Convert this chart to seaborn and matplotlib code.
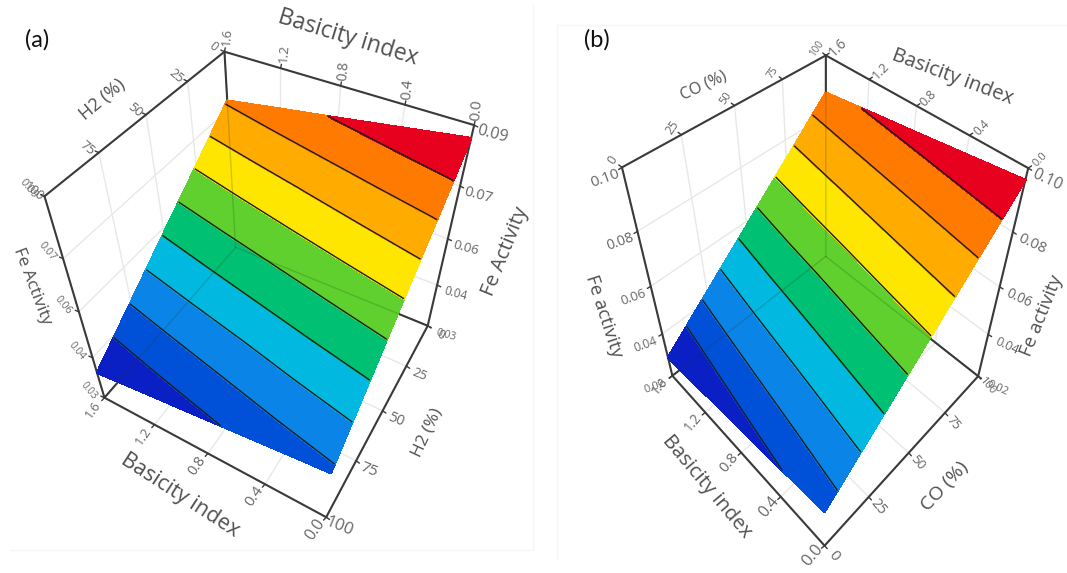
import numpy as np
import seaborn as sns
import matplotlib
matplotlib.use("Agg")
import matplotlib.pyplot as plt

# values
basicity = [0.0, 0.4, 0.8, 1.2, 1.6]
gas_pct = [0, 25, 50, 75, 100]
basicity_ticks = ['0.0', '0.4', '0.8', '1.2', '1.6']
gas_ticks = ['0', '25', '50', '75', '100']

# rows = basicity, columns = gas %
fe_h2 = [
    [0.0870, 0.0772, 0.0674, 0.0576, 0.0478],
    [0.0846, 0.0749, 0.0652, 0.0555, 0.0458],
    [0.0822, 0.0726, 0.0630, 0.0533, 0.0437],
    [0.0799, 0.0703, 0.0608, 0.0512, 0.0417],
    [0.0775, 0.0680, 0.0586, 0.0491, 0.0396],
]
fe_co = [
    [0.0381, 0.0527, 0.0673, 0.0819, 0.0965],
    [0.0358, 0.0504, 0.0651, 0.0797, 0.0943],
    [0.0336, 0.0482, 0.0628, 0.0775, 0.0921],
    [0.0313, 0.0460, 0.0607, 0.0753, 0.0900],
    [0.0290, 0.0437, 0.0584, 0.0731, 0.0878],
]
levels_h2 = [0.0443, 0.0488, 0.0535, 0.0582, 0.0629, 0.0676, 0.0723, 0.0770, 0.0818]
levels_co = [0.0360, 0.0419, 0.0487, 0.0555, 0.0624, 0.0692, 0.0761, 0.0829, 0.0897]

z_ticks_h2 = [0.03, 0.045, 0.06, 0.075, 0.09]
z_labels_h2 = ['0.03', '0.04', '0.06', '0.07', '0.09']
z_ticks_co = [0.02, 0.04, 0.06, 0.08, 0.10]
z_labels_co = ['0.02', '0.04', '0.06', '0.08', '0.10']

band_colors = ['#0a1fc4', '#0050d8', '#0a84e6', '#00b8e0', '#00c074',
               '#5fd02e', '#ffe600', '#ffab00', '#ff7a00', '#e8001f']

# camera calibration: box corner (basicity, gas, Fe) -> pixel in the figure
corners_a = {
    (1.6, 0, 0.09): (225, 52), (0.0, 0, 0.09): (474, 125), (1.6, 100, 0.09): (44, 196),
    (1.6, 100, 0.03): (105, 398), (0.0, 100, 0.03): (326, 517),
    (0.0, 0, 0.03): (428, 326), (1.6, 0, 0.03): (235, 247),
}
corners_b = {
    (1.6, 100, 0.10): (826, 55), (0.0, 100, 0.10): (1028, 168), (1.6, 0, 0.10): (622, 168),
    (1.6, 0, 0.02): (672, 375), (0.0, 0, 0.02): (825, 546),
    (0.0, 100, 0.02): (978, 376), (1.6, 100, 0.02): (826, 257),
}

EDGE = '#3a3a3a'
GRID = '#e8e8e8'
TEXT = '#666666'


def fit_camera(corners):
    rows = []
    for (b, g, z), (px, py) in corners.items():
        w = [b, g / 100, z * 10, 1]
        rows.append(w + [0, 0, 0, 0] + [-px * v for v in w])
        rows.append([0, 0, 0, 0] + w + [-py * v for v in w])
    return np.linalg.svd(np.array(rows, dtype=float))[2][-1].reshape(3, 4)


def project(cam, b, g, z):
    b, g, z = np.asarray(b, float), np.asarray(g, float), np.asarray(z, float)
    w = np.stack([b, g / 100, z * 10, np.ones_like(b)])
    p = np.tensordot(cam, w, axes=1)
    return p[0] / p[2], p[1] / p[2]


def seg(ax, cam, a, b, **kw):
    x, y = project(cam, [a[0], b[0]], [a[1], b[1]], [a[2], b[2]])
    ax.plot(x, y, **kw)


def edge(ax, cam, a, b):
    x, y = project(cam, [a[0], b[0]], [a[1], b[1]], [a[2], b[2]])
    sns.lineplot(x=x, y=y, sort=False, estimator=None, color=EDGE, lw=1.5, ax=ax, zorder=1)


def axis_ticks(ax, cam, pts, labels, offset, rot, sizes):
    off = np.array(offset, float)
    unit = off / np.hypot(*off)
    for (b, g, z), lab, fs in zip(pts, labels, np.linspace(sizes[0], sizes[1], len(labels))):
        x, y = project(cam, b, g, z)
        ax.plot([x, x + unit[0] * 4], [y, y + unit[1] * 4], color=EDGE, lw=1, zorder=1)
        ax.text(x + off[0], y + off[1], lab, rotation=rot, color=TEXT, fontsize=fs,
                ha='center', va='center', rotation_mode='anchor')


def panel(ax, corners, table, levels, gas_back, z_ticks, z_labels, spec, titles):
    cam = fit_camera(corners)
    zlo, zhi = z_ticks[0], z_ticks[-1]
    gas_front = 100 - gas_back

    # back walls and floor
    for g in gas_pct:
        seg(ax, cam, (1.6, g, zlo), (1.6, g, zhi), color=GRID, lw=1, zorder=0)
        seg(ax, cam, (1.6, g, zlo), (0.0, g, zlo), color=GRID, lw=1, zorder=0)
    for b in basicity:
        seg(ax, cam, (b, gas_back, zlo), (b, gas_back, zhi), color=GRID, lw=1, zorder=0)
        seg(ax, cam, (b, gas_back, zlo), (b, gas_front, zlo), color=GRID, lw=1, zorder=0)
    for z in z_ticks:
        seg(ax, cam, (1.6, gas_back, z), (1.6, gas_front, z), color=GRID, lw=1, zorder=0)
        seg(ax, cam, (1.6, gas_back, z), (0.0, gas_back, z), color=GRID, lw=1, zorder=0)

    # box frame
    back_lo = (1.6, gas_back, zlo)
    hidden = [((1.6, gas_back, zhi), back_lo),
              (back_lo, (1.6, gas_front, zlo)),
              (back_lo, (0.0, gas_back, zlo))]
    frame = [((1.6, gas_back, zhi), (0.0, gas_back, zhi)),
             ((1.6, gas_back, zhi), (1.6, gas_front, zhi)),
             ((1.6, gas_front, zhi), (1.6, gas_front, zlo)),
             ((0.0, gas_back, zhi), (0.0, gas_back, zlo)),
             ((0.0, gas_back, zlo), (0.0, gas_front, zlo)),
             ((1.6, gas_front, zlo), (0.0, gas_front, zlo))] + hidden
    for a, b in frame:
        edge(ax, cam, a, b)

    # surface
    gg, bb = np.meshgrid(gas_pct, basicity)
    zz = np.array(table)
    px, py = project(cam, bb, gg, zz)
    cs = ax.contourf(px, py, zz, levels=levels, colors=sns.color_palette(band_colors),
                     extend='both', zorder=2)
    cs.set_edgecolor('face')
    ax.contour(px, py, zz, levels=levels, colors='#1c1c1c', linewidths=1, zorder=3)
    for a, b in hidden:
        seg(ax, cam, a, b, color='#1c3c1c', lw=1, alpha=0.2, zorder=4)

    # axes
    ax_pts = {
        'top_b': [(b, gas_back, zhi) for b in basicity],
        'bot_b': [(b, gas_front, zlo) for b in basicity],
        'top_g': [(1.6, g, zhi) for g in gas_pct],
        'right_g': [(0.0, g, zlo) for g in gas_pct],
        'left_z': [(1.6, gas_front, z) for z in z_ticks],
        'right_z': [(0.0, gas_back, z) for z in z_ticks],
    }
    ax_labels = {'top_b': basicity_ticks, 'bot_b': basicity_ticks, 'top_g': gas_ticks,
                 'right_g': gas_ticks, 'left_z': z_labels, 'right_z': z_labels}
    for key, (off, rot, sizes) in spec.items():
        axis_ticks(ax, cam, ax_pts[key], ax_labels[key], off, rot, sizes)

    for txt, x, y, rot, fs in titles:
        ax.text(x, y, txt, rotation=rot, fontsize=fs, color='#505050', ha='center',
                va='center', rotation_mode='anchor')


sns.set_theme(style='white')
plt.rcParams['font.family'] = ['Open Sans', 'DejaVu Sans']

fig = plt.figure(figsize=(10.67, 5.73), dpi=100)
ax = fig.add_axes([0, 0, 1, 1])

spec_a = {
    'top_b': ((3, -15), 85, (11, 9)),
    'bot_b': ((-11, 12), 55, (11.5, 9)),
    'top_g': ((-11, -5), -40, (9, 9.5)),
    'right_g': ((13, 9), -22, (8.5, 12)),
    'left_z': ((-16, -7), -50, (7, 8)),
    'right_z': ((18, 9), -15, (7.5, 11.5)),
}
titles_a = [('Basicity index', 348, 38, -17, 16.5), ('H2 (%)', 102, 100, 40, 13),
            ('Fe Activity', 32, 286, -69, 12.5), ('Fe Activity', 505, 252, 68, 14.5),
            ('H2 (%)', 427, 433, 65, 12.5), ('Basicity index', 180, 495, -33, 15.5)]
panel(ax, corners_a, fe_h2, levels_h2, 0, z_ticks_h2, z_labels_h2, spec_a, titles_a)

spec_b = {
    'top_b': ((12, -8), 45, (8, 10)),
    'bot_b': ((-12, 10), 50, (12, 9)),
    'top_g': ((-9, -7), 55, (9, 7)),
    'right_g': ((9, 10), -50, (11, 8)),
    'left_z': ((-17, 11), 20, (8, 11)),
    'right_z': ((19, 12), -25, (8, 11.5)),
}
titles_b = [('Basicity index', 952, 77, -20.5, 14.5), ('CO (%)', 704, 86, 25, 11.5),
            ('Fe activity', 604, 316, -72, 13.5), ('Fe activity', 1042, 316, 68, 13.5),
            ('CO (%)', 945, 486, 47, 14), ('Basicity index', 707, 487, -50, 14.5)]
panel(ax, corners_b, fe_co, levels_co, 100, z_ticks_co, z_labels_co, spec_b, titles_b)

ax.text(37, 40, '(a)', fontsize=17, color='#111111', ha='center', va='center', family='Lato')
ax.text(597, 40, '(b)', fontsize=17, color='#111111', ha='center', va='center', family='Lato')

# faint image borders
ax.plot([10, 533, 533], [550, 550, 5], color='#f6f6f6', lw=1, zorder=0)
ax.plot([557, 557, 1067], [560, 25, 25], color='#f6f6f6', lw=1, zorder=0)

ax.set_xlim(0, 1067)
ax.set_ylim(573, 0)
ax.axis('off')
fig.savefig('out.png', dpi=100)
